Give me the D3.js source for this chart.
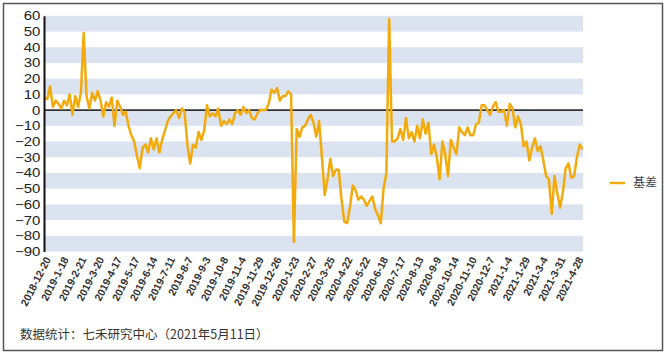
<!DOCTYPE html>
<html>
<head>
<meta charset="utf-8">
<script src="https://cdn.jsdelivr.net/npm/d3@7"></script>
<style>
    body { margin: 0; background: #fff; }
    svg { display: block; font-family: "Liberation Sans", Arial, sans-serif; }
</style>
</head>
<body>
<div id="chart"></div>
<script>
(function() {
    let w = 668;
    let h = 355;

    // trading-day labels on the x axis, one every 19 trading days
    let tickLabels = ["2018-12-20", "2019-1-18", "2019-2-21", "2019-3-20", "2019-4-17", "2019-5-17",
        "2019-6-14", "2019-7-11", "2019-8-7", "2019-9-3", "2019-10-8", "2019-11-4", "2019-11-29",
        "2019-12-26", "2020-1-23", "2020-2-27", "2020-3-25", "2020-4-22", "2020-5-22", "2020-6-18",
        "2020-7-17", "2020-8-13", "2020-9-9", "2020-10-14", "2020-11-10", "2020-12-7", "2021-1-4",
        "2021-1-29", "2021-3-4", "2021-3-31", "2021-4-28"];
    let tickEvery = 19;
    let dayCount = 577; // 2018-12-20 .. 2021-5-11

    let yTicks = [60, 50, 40, 30, 20, 10, 0, -10, -20, -30, -40, -50, -60, -70, -80, -90];

    // basis, read every 3rd trading day
    let dayStep = 3;
    let basis = [
        8, 7, 15, 2, 6, 4, 1, 6, 3, 10,
        -3, 9, 2, 11, 49, 9, 1, 11, 6, 12,
        6, -4, 5, 2, 8, -10, 6, 2, -3, -1,
        -10, -16, -20, -29, -37, -24, -22, -27, -18, -25,
        -18, -27, -19, -13, -7, -4, -2, 0, -5, 1,
        -1, -22, -34, -22, -24, -14, -19, -13, 3, -4,
        -2, -4, 1, -10, -7, -9, -6, -9, -2, 0,
        -3, 2, -2, 0, -5, -6, -2, 0, 0, 0,
        4, 13, 11, 14, 6, 9, 9, 12, 10, -84,
        -12, -17, -11, -10, -6, -3, -8,
        -17, -7, -30, -54, -44, -31, -42, -38, -38,
        -57, -71, -72, -62, -48, -51, -57, -55, -57, -61,
        -58, -55, -63, -67, -72, -50, -40, 58, -20, -20,
        -18, -12, -19, -5, -18, -14, -20, -10, -18, -6,
        -15, -8, -28, -22, -30, -44, -20, -28, -42, -19,
        -24, -28, -11, -14, -16, -11, -16, -16, -9, -8,
        3, 3, 0, -3, 2, 5, -1, -1, 0, -10,
        4, 1, -11, -4, -9, -23, -20, -32, -24, -18,
        -26, -23, -32, -42, -44, -66, -42, -53, -62, -52,
        -37, -34, -43, -42, -30, -22, -25
    ];

    let seriesName = "基差";
    let source = "数据统计：七禾研究中心（2021年5月11日）";

    let left = 44, right = 583, top = 15.8, bottom = 251.5;

    let svg = d3.select("#chart")
        .append("svg")
        .attr("width", w)
        .attr("height", h);

    // outer frame
    svg.append("rect")
        .attr("x", 3.5).attr("y", 3.5)
        .attr("width", 659).attr("height", 347)
        .attr("fill", "none")
        .attr("stroke", "#555")
        .attr("stroke-width", 1.5);

    let x = d3.scaleLinear().domain([-0.5, dayCount - 0.5]).range([left, right]);
    let y = d3.scaleLinear().domain([-90, 60]).range([bottom, top]);

    // alternating bands
    let bands = yTicks.slice(0, -1).filter((d, i) => i % 2 === 0);
    svg.selectAll("rect.band")
        .data(bands)
        .enter()
        .append("rect")
        .attr("class", "band")
        .attr("x", left)
        .attr("width", right - left)
        .attr("y", (d) => y(d))
        .attr("height", (d) => y(d - 10) - y(d))
        .attr("fill", "#dae3ef");

    // zero line
    svg.append("line")
        .attr("x1", left).attr("x2", right)
        .attr("y1", y(0)).attr("y2", y(0))
        .attr("stroke", "#333")
        .attr("stroke-width", 1.6);

    let line = d3.line()
        .x((d, i) => x(i * dayStep))
        .y((d) => y(d));

    svg.append("path")
        .datum(basis)
        .attr("d", line)
        .attr("fill", "none")
        .attr("stroke", "#f2aa0c")
        .attr("stroke-width", 2.5)
        .attr("stroke-linejoin", "round");

    // y axis
    let yAxis = svg.append("g")
        .attr("transform", "translate(" + left + ",0)")
        .call(d3.axisLeft(y).tickValues(yTicks).tickSize(0).tickPadding(3));
    yAxis.select(".domain").attr("stroke", "#111").attr("stroke-width", 2);
    yAxis.selectAll("text")
        .attr("fill", "#222")
        .attr("font-size", 12.5)
        .attr("transform", "scale(1.2,1)");

    // x axis labels
    let xAxis = svg.append("g")
        .attr("transform", "translate(0," + bottom + ")")
        .call(d3.axisBottom(x)
            .tickValues(tickLabels.map((d, i) => i * tickEvery))
            .tickFormat((d, i) => tickLabels[i])
            .tickSize(0));
    xAxis.select(".domain").remove();
    xAxis.selectAll("text")
        .attr("fill", "#333")
        .attr("font-size", 10.5)
        .attr("font-weight", "bold")
        .attr("text-anchor", "end")
        .attr("dy", "0.35em")
        .attr("y", 0)
        .attr("transform", "translate(3,6) rotate(-63)");

    // legend
    svg.append("line")
        .attr("x1", 610).attr("x2", 625)
        .attr("y1", 183).attr("y2", 183)
        .attr("stroke", "#f2aa0c")
        .attr("stroke-width", 2.5);
    svg.append("text")
        .attr("x", 633).attr("y", 187)
        .attr("font-size", 12)
        .attr("fill", "#444")
        .style("font-family", "'Noto Sans CJK SC', sans-serif")
        .text(seriesName);

    // source note
    svg.append("text")
        .attr("x", 20).attr("y", 339)
        .attr("font-size", 12.5)
        .attr("fill", "#333")
        .style("font-family", "'Noto Sans CJK SC', sans-serif")
        .text(source);
})();
</script>
</body>
</html>
